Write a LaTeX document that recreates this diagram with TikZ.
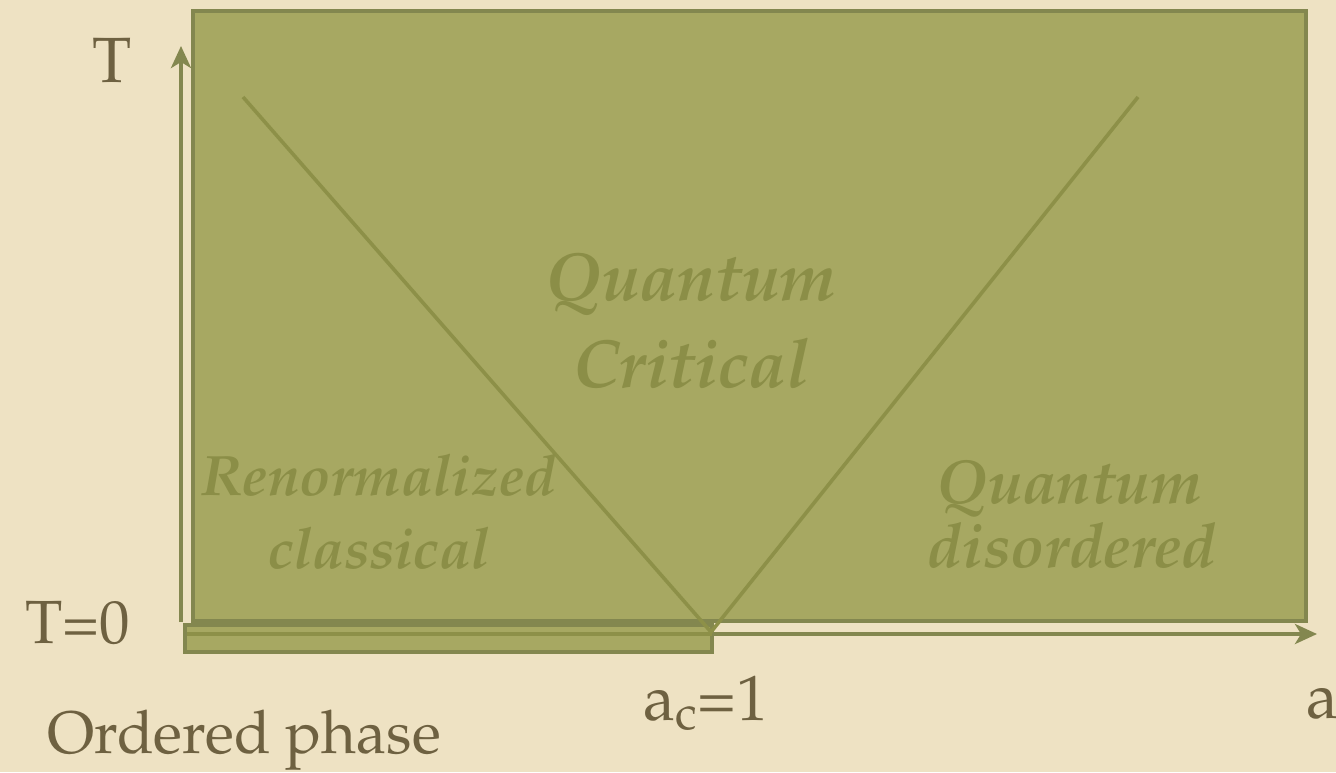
\documentclass[tikz,border=0pt]{standalone}
\usepackage[T1]{fontenc}
\usepackage{mathpazo}
\usetikzlibrary{arrows.meta}
\definecolor{bg}{HTML}{EEE2C3}
\definecolor{boxfill}{HTML}{A7A862}
\definecolor{boxedge}{HTML}{83874F}
\definecolor{vline}{HTML}{8D9048}
\definecolor{intext}{HTML}{8B8E47}
\definecolor{lbl}{HTML}{6E6141}
\tikzset{
  region/.style={fill=boxfill, draw=boxedge, line width=2pt},
  axis/.style={draw=boxedge, line width=2pt, -{Stealth[length=11pt,width=10pt,inset=3pt]}},
  vlinestyle/.style={draw=vline, line width=1.8pt},
  intxt/.style={text=intext, font=\fontsize{#1}{#1}\selectfont\itshape\bfseries, inner sep=0pt, anchor=base},
  lbltxt/.style={text=lbl, font=\fontsize{#1}{#1}\selectfont, inner sep=0pt},
}
\begin{document}
\begin{tikzpicture}[x=0.5pt,y=-0.5pt]
\useasboundingbox (0,0) rectangle (1336,772);
\fill[bg] (0,0) rectangle (1336,772);
% regions
\draw[region] (193,11) rectangle (1306,621);
\draw[region] (185,625) rectangle (712,652);
% axes
\coordinate (ttop) at (181,46);
\coordinate (xl) at (187,634);
\coordinate (xr) at (1317,634);
\draw[axis] (181,622) -- (ttop);
\draw[vlinestyle] (xl) -- (712,634);
\draw[axis] (712,634) -- (xr);
% V lines
\coordinate (l1) at (243,97);
\coordinate (vtx) at (711,632);
\coordinate (r1) at (1138,97);
\draw[vlinestyle] (l1) -- (vtx) -- (r1);
% region texts
\node[intxt=34] (qc1) at (691,300) {Quantum};
\node[intxt=34] (qc2) at (691,387) {Critical};
\node[intxt=28.5] (rc1) at (379,495) {Renormalized};
\node[intxt=28.5] (rc2) at (379,568) {classical};
\node[intxt=31] (qd1) at (1069,503) {Quantum};
\node[intxt=31] (qd2) at (1072,567) {disordered};
% labels
\node[lbltxt=32, anchor=base] (T) at (112,82) {T};
\node[lbltxt=30.5, anchor=base west] (T0) at (25,643) {T=0};
\node[lbltxt=32, anchor=base] (ac) at (706,720) {a\textsubscript{c}=1};
\node[lbltxt=32, anchor=base west] (a) at (1306,718) {a};
\node[lbltxt=30, anchor=base west] (op) at (47,753) {Ordered phase};
\end{tikzpicture}
\end{document}
